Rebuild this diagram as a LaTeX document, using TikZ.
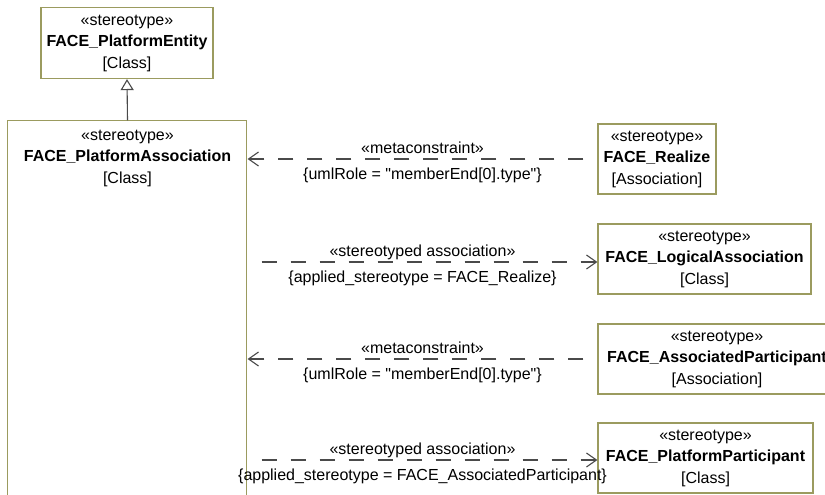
\documentclass[tikz,border=0pt]{standalone}
\usepackage{fontspec}
\setmainfont{Liberation Sans}
\usepackage{tikz}
\usetikzlibrary{positioning, arrows.meta}

\begin{document}
\begin{tikzpicture}[x=1pt, y=-1pt, font=\fontsize{16}{21.5}\selectfont,
  umlbox/.style={draw=umlBorder, line width=1.2pt, fill=white, align=center, inner sep=0pt, minimum height=70pt},
  metalink/.style={draw=linkGray, line width=1.1pt, dash pattern=on 15pt off 14pt, dash phase=15pt,
    -{Straight Barb[length=10pt, width=14pt]}},
  genlink/.style={draw=linkGray, line width=1.1pt, -{Triangle[open, length=11pt, width=13pt, fill=white]}},
  lbltop/.style={anchor=base, yshift=6pt, inner sep=0pt},
  lblbot/.style={anchor=base, yshift=-20.5pt, inner sep=0pt}]
\definecolor{umlBorder}{HTML}{9B9B5F}
\definecolor{linkGray}{HTML}{4A4A4A}
\useasboundingbox (0,0) rectangle (825,495);
\clip (0,0) rectangle (825,495);
% metaclass boxes
\node[umlbox, minimum width=172pt, minimum height=71pt] (platEntity) at (127,43)
  {«stereotype»\\ \textbf{FACE\_PlatformEntity}\\ {[Class]}};
\node[umlbox, draw=none, fill=none, minimum width=239pt, minimum height=71pt] (platAssoc) at (127.5,158)
  {«stereotype»\\ \textbf{FACE\_PlatformAssociation}\\ {[Class]}};
\draw[umlBorder, line width=1.2pt] ([yshift=1.5pt]platAssoc.north west) rectangle ++(239,420);
\node[umlbox, minimum width=118pt] (realize) at (657,159)
  {«stereotype»\\ \textbf{FACE\_Realize}\\ {[Association]}};
\node[umlbox, minimum width=213pt] (logical) at (704.5,259)
  {«stereotype»\\ \textbf{FACE\_LogicalAssociation}\\ {[Class]}};
\node[umlbox, minimum width=238pt] (assocPart) at (717,359)
  {«stereotype»\\ \textbf{FACE\_AssociatedParticipant}\\ {[Association]}};
\node[umlbox, minimum width=215pt] (platPart) at (705.5,458)
  {«stereotype»\\ \textbf{FACE\_PlatformParticipant}\\ {[Class]}};
% generalization
\draw[genlink] ([yshift=1.5pt]platAssoc.north) -- (platEntity.south);
% connectors
\coordinate (logIn) at ([yshift=-3pt]logical.west);
\coordinate (partIn) at ([yshift=-2pt]platPart.west);
\draw[metalink] (realize.west) -- (realize.west -| platAssoc.east)
  node[midway, lbltop] {«metaconstraint»}
  node[midway, lblbot] {\{umlRole = \textquotedbl memberEnd[0].type\textquotedbl\}};
\draw[metalink] (logIn -| platAssoc.east) -- (logIn)
  node[midway, lbltop] {«stereotyped association»}
  node[midway, lblbot] {\{applied\_stereotype = FACE\_Realize\}};
\draw[metalink] (assocPart.west) -- (assocPart.west -| platAssoc.east)
  node[midway, lbltop] {«metaconstraint»}
  node[midway, lblbot] {\{umlRole = \textquotedbl memberEnd[0].type\textquotedbl\}};
\draw[metalink] (partIn -| platAssoc.east) -- (partIn)
  node[midway, lbltop] {«stereotyped association»}
  node[midway, lblbot] {\{applied\_stereotype = FACE\_AssociatedParticipant\}};
\end{tikzpicture}
\end{document}
